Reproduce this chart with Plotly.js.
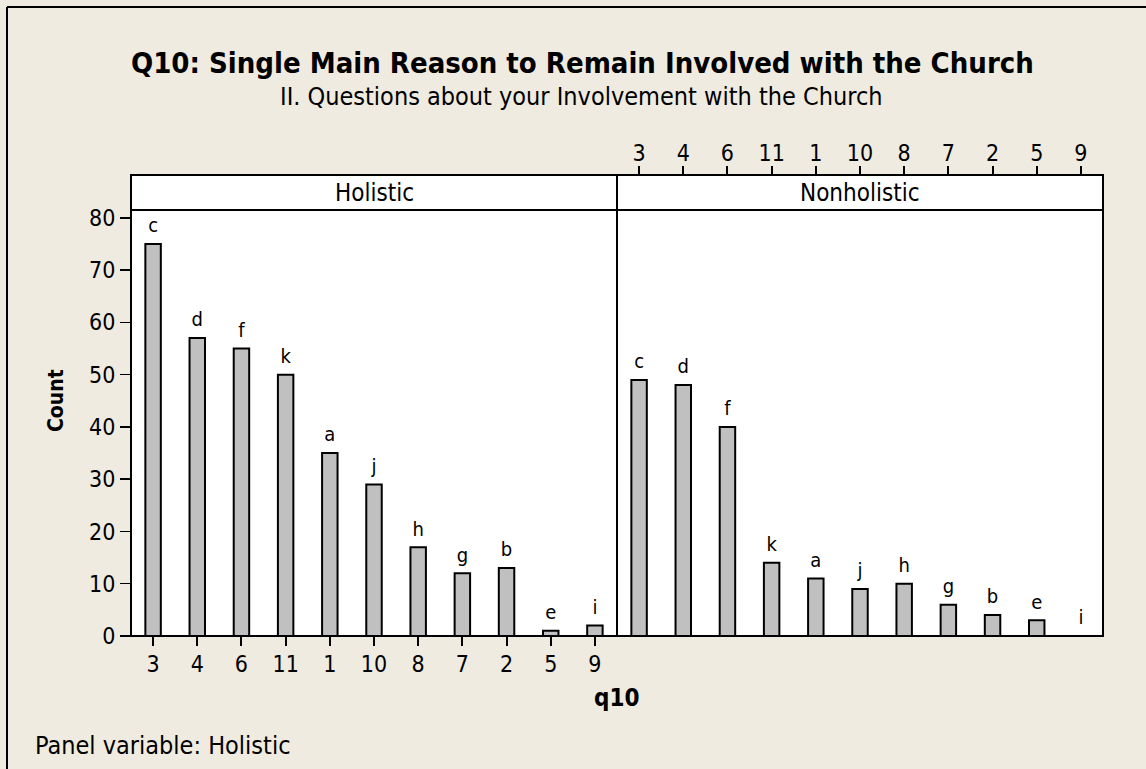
<!DOCTYPE html>
<html>
<head>
<meta charset="utf-8">
<script src="https://cdn.plot.ly/plotly-3.0.1.min.js"></script>
<style>
  html, body { margin: 0; padding: 0; background: #EFEBE1; overflow: hidden; }
  #chart { width: 1146px; height: 769px; }
</style>
</head>
<body>
<div id="chart"></div>
<script>
// ---- data ----
const categories = ['3', '4', '6', '11', '1', '10', '8', '7', '2', '5', '9'];
const letters = ['c', 'd', 'f', 'k', 'a', 'j', 'h', 'g', 'b', 'e', 'i'];
const holisticCounts = [75, 57, 55, 50, 35, 29, 17, 12, 13, 1, 2];
const nonholisticCounts = [49, 48, 40, 14, 11, 9, 10, 6, 4, 3, 0];
const panelNames = ['Holistic', 'Nonholistic'];
const titleText = 'Q10: Single Main Reason to Remain Involved with the Church';
const subtitleText = 'II. Questions about your Involvement with the Church';
const xTitle = 'q10';
const yTitle = 'Count';
const footText = 'Panel variable: Holistic';

// ---- layout geometry (pixels) ----
const W = 1146, H = 769;
const L = 131, R = 1103, TOP = 175, BOT = 636, STRIP = 35;
const pw = R - L, ph = BOT - TOP;
const px = v => (v - L) / pw;
const py = v => (BOT - v) / ph;
const stripY = py(TOP + STRIP);

const FONT = '"DejaVu Sans Condensed", "DejaVu Sans", sans-serif';
const BAR = '#C0C0C0';

function barTrace(vals, xa) {
  return {
    type: 'bar', x: categories, y: vals, xaxis: xa, yaxis: 'y',
    width: 0.35,
    marker: { color: BAR, line: { color: '#000', width: 2 } },
    hoverinfo: 'x+y', showlegend: false
  };
}
function labelTrace(vals, xa) {
  return {
    type: 'scatter', mode: 'markers+text', x: categories, y: vals, xaxis: xa, yaxis: 'y',
    text: letters, textposition: 'top center', cliponaxis: false,
    marker: { size: 9, color: 'rgba(0,0,0,0)' },
    textfont: { family: FONT, size: 20, color: '#000' },
    hoverinfo: 'skip', showlegend: false
  };
}

const data = [
  barTrace(holisticCounts, 'x'),
  barTrace(nonholisticCounts, 'x2'),
  labelTrace(holisticCounts, 'x'),
  labelTrace(nonholisticCounts, 'x2')
];

const xCommon = {
  type: 'category', categoryorder: 'array', categoryarray: categories,
  range: [-0.5, 10.5], showgrid: false, zeroline: false, showline: false,
  ticks: 'outside', ticklen: 9, tickwidth: 2, tickcolor: '#000',
  tickfont: { family: FONT, size: 23, color: '#000' }, fixedrange: true
};

const border = { color: '#000', width: 2 };
const shapes = [
  // strips (white boxes)
  { type: 'rect', xref: 'paper', yref: 'paper', x0: 0, x1: 0.5, y0: stripY, y1: 1, fillcolor: '#fff', line: border, layer: 'below' },
  { type: 'rect', xref: 'paper', yref: 'paper', x0: 0.5, x1: 1, y0: stripY, y1: 1, fillcolor: '#fff', line: border, layer: 'below' },
  // panel frames
  { type: 'rect', xref: 'paper', yref: 'paper', x0: 0, x1: 0.5, y0: 0, y1: stripY, line: border, layer: 'above' },
  { type: 'rect', xref: 'paper', yref: 'paper', x0: 0.5, x1: 1, y0: 0, y1: stripY, line: border, layer: 'above' },
  // outer figure border (top and left)
  { type: 'line', xref: 'paper', yref: 'paper', x0: px(7), x1: px(W + 5), y0: py(7), y1: py(7), line: border },
  { type: 'line', xref: 'paper', yref: 'paper', x0: px(7), x1: px(7), y0: py(7), y1: py(H + 5), line: border }
];

const ann = (text, x, y, size, opts) => Object.assign({
  text, x, y, xref: 'paper', yref: 'paper', showarrow: false,
  xanchor: 'center', yanchor: 'middle',
  font: { family: FONT, size, color: '#000' }
}, opts || {});

const annotations = [
  ann('<b>' + titleText + '</b>', px(582), py(63), 29),
  ann(subtitleText, px(581), py(97), 25),
  ann(panelNames[0], 0.25, py(TOP + STRIP / 2), 24),
  ann(panelNames[1], 0.75, py(TOP + STRIP / 2), 24),
  ann('<b>' + xTitle + '</b>', 0.5, py(698), 24),
  ann('<b>' + yTitle + '</b>', px(56), py(401), 21, { textangle: -90 }),
  ann(footText, px(33), py(745), 25, { xanchor: 'left' })
];

const layout = {
  width: W, height: H,
  margin: { l: L, r: W - R, t: TOP, b: H - BOT, pad: 0 },
  paper_bgcolor: '#EFEBE1', plot_bgcolor: '#FFFFFF',
  font: { family: FONT, color: '#000' },
  showlegend: false, bargap: 0,
  xaxis: Object.assign({}, xCommon, { domain: [0, 0.5], anchor: 'y', side: 'bottom', ticklabelstandoff: -2 }),
  xaxis2: Object.assign({}, xCommon, { domain: [0.5, 1], anchor: 'free', position: 1, side: 'top', ticklabelstandoff: -4 }),
  yaxis: {
    domain: [0, stripY], range: [0, 81.5], anchor: 'x',
    tickvals: [0, 10, 20, 30, 40, 50, 60, 70, 80],
    showgrid: false, zeroline: false, showline: false,
    ticks: 'outside', ticklen: 10, tickwidth: 1.5, tickcolor: '#000',
    tickfont: { family: FONT, size: 23, color: '#000' }, fixedrange: true
  },
  shapes, annotations
};

Plotly.newPlot('chart', data, layout, { displayModeBar: false, staticPlot: true });
</script>
</body>
</html>
